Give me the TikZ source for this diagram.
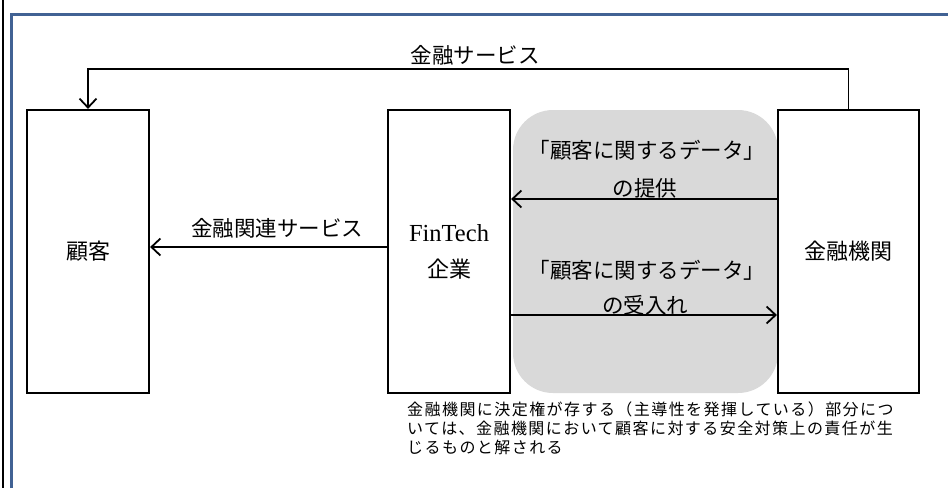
\documentclass[tikz,border=0pt]{standalone}
\usepackage{fontspec}
\newfontfamily\cjk{Noto Sans CJK JP}
\newfontfamily\latinserif{Liberation Serif}
\newfontfamily\cjknote[LetterSpace=9]{Noto Sans CJK JP}
\usetikzlibrary{arrows.meta,calc}
\definecolor{frameblue}{RGB}{65,98,148}
\definecolor{regiongray}{RGB}{217,217,217}
\begin{document}
\begin{tikzpicture}[x=1pt,y=-1pt,
  box/.style={draw, line width=2.2pt, minimum height=283pt, inner sep=0pt, align=center,
    font=\fontsize{22}{36}\selectfont},
  conn/.style={line width=1.8pt, -{Straight Barb[length=9pt,width=17pt,line width=1.8pt]}},
  lbl/.style={font=\cjk\fontsize{21.5}{26}\selectfont, inner sep=0pt},
  notetext/.style={font=\cjknote\fontsize{16}{19}\selectfont, inner sep=0pt, align=left, anchor=north west}]
\useasboundingbox (0,0) rectangle (948,488);
% frame lines
\draw[line width=1.5pt] (3,0) -- (3,488);
\draw[frameblue, line width=3.5pt] (11.5,488) -- (11.5,14.5) -- (948,14.5);
% gray region
\fill[regiongray, rounded corners=40pt] (513,110) rectangle (778,393);
% boxes
\node[box, minimum width=122pt] (cust) at (88,251.5) {\cjk 顧客};
\node[box, minimum width=122pt] (fin) at (449,251.5) {{\latinserif\fontsize{24.5}{36}\selectfont FinTech}\\{\cjk 企業}};
\node[box, minimum width=141pt] (bank) at (848.5,251.5) {\cjk 金融機関};
% top connector
\coordinate (ty) at (0,69);
\draw[conn] (bank.north) -- (bank.north |- ty) -| (cust.north);
\node[lbl] (l1) at (475,55) {金融サービス};
% FinTech -> customer
\coordinate (a1) at (0,247);
\draw[conn] (fin.west |- a1) -- (cust.east |- a1);
\node[lbl] (l2) at (277,228) {金融関連サービス};
% bank -> FinTech
\coordinate (a2) at (0,199);
\draw[conn] (bank.west |- a2) -- (fin.east |- a2);
\node[lbl] (l3) at (647,150) {「顧客に関するデータ」};
\node[lbl] (l4) at (645,188) {の提供};
% FinTech -> bank
\coordinate (a3) at (0,315);
\draw[conn] (fin.east |- a3) -- (bank.west |- a3);
\node[lbl] (l5) at (647,270) {「顧客に関するデータ」};
\node[lbl] (l6) at (645,305) {の受入れ};
% note
\node[notetext] (note) at (407,402) {金融機関に決定権が存する（主導性を発揮している）部分につ\\いては、金融機関において顧客に対する安全対策上の責任が生\\じるものと解される};
\end{tikzpicture}
\end{document}
